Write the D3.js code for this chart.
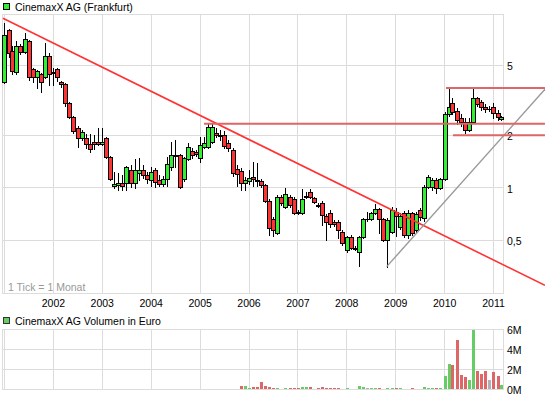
<!DOCTYPE html>
<html><head><meta charset="utf-8">
<script src="https://cdn.jsdelivr.net/npm/d3@7"></script>
<style>
body{margin:0;background:#fff}
svg{display:block}
text{font-family:"Liberation Sans",Arial,sans-serif;font-size:10.5px;fill:#000}
</style>
</head><body>
<svg id="c" width="545" height="398"></svg>
<script>
// ---- data (monthly candles, first = Jan 2001) ----
const startYear = 2001;
const open = [4.00,7.94,6.02,4.57,6.43,5.94,6.87,4.75,4.28,4.45,4.28,5.64,
  4.57,4.75,4.00,3.90,3.04,2.53,2.19,1.91,1.91,1.78,1.82,1.82,
  1.78,1.91,1.49,1.02,1.03,1.06,1.06,1.26,1.06,1.21,1.26,1.18,
  1.10,1.26,1.10,1.05,1.12,1.31,1.51,1.53,1.12,1.45,1.62,1.60,
  1.47,1.70,1.70,1.82,2.04,1.99,1.99,1.80,1.64,1.28,1.24,1.06,
  1.09,1.15,1.10,1.09,1.03,0.838,0.66,0.55,0.883,0.775,0.883,0.86,
  0.725,0.715,0.883,0.94,0.871,0.795,0.816,0.688,0.715,0.635,0.635,0.557,
  0.44,0.522,0.451,0.429,0.522,0.66,0.66,0.715,0.754,0.66,0.502,0.557,
  0.725,0.595,0.715,0.536,0.715,0.572,0.744,0.668,1.0,1.0,1.10,0.99,
  1.12,2.63,3.04,2.73,2.50,2.37,2.13,2.37,3.25,3.08,2.88,2.81,
  2.88,2.67,2.47];
const close = [7.43,5.86,4.63,6.43,5.94,7.05,4.28,4.28,4.63,4.00,5.64,4.45,
  4.51,4.28,3.90,3.04,2.53,2.10,1.91,2.07,1.78,1.66,1.78,1.78,
  1.82,1.49,1.12,1.05,1.06,1.02,1.31,1.06,1.26,1.26,1.18,1.12,
  1.23,1.07,1.05,1.12,1.36,1.53,1.53,1.00,1.47,1.70,1.53,1.55,
  1.75,1.80,2.22,2.22,1.99,1.97,1.72,1.68,1.21,1.20,1.06,1.10,
  1.13,1.12,1.09,1.03,0.838,0.587,0.572,0.883,0.816,0.918,0.795,0.715,
  0.715,0.86,0.894,0.883,0.827,0.785,0.697,0.635,0.62,0.62,0.572,0.483,
  0.522,0.451,0.448,0.522,0.66,0.66,0.715,0.754,0.66,0.502,0.652,0.744,
  0.688,0.688,0.536,0.715,0.55,0.706,0.68,1.0,1.15,1.10,0.99,1.12,
  2.63,2.88,2.70,2.43,2.37,2.13,2.37,3.25,3.00,2.88,2.81,2.81,
  2.67,2.53,2.53];
const high = [8.71,8.04,6.43,6.87,6.60,7.63,6.96,4.81,4.69,4.51,6.69,5.86,
  4.81,4.81,4.06,3.95,3.08,2.57,2.25,2.13,2.02,2.02,1.99,2.19,
  2.19,1.94,1.51,1.23,1.21,1.18,1.32,1.34,1.45,1.47,1.34,1.23,
  1.31,1.29,1.18,1.16,1.49,1.82,1.87,1.55,1.49,1.80,1.68,1.64,
  1.94,1.94,2.34,2.31,2.19,2.13,2.10,1.87,1.68,1.34,1.29,1.15,
  1.26,1.40,1.38,1.12,1.05,0.86,0.68,0.906,0.906,0.99,0.906,0.883,
  0.744,0.98,0.94,0.98,0.883,0.816,0.838,0.706,0.744,0.652,0.652,0.572,
  0.529,0.536,0.464,0.529,0.668,0.725,0.725,0.805,0.765,0.668,0.668,0.775,
  0.765,0.715,0.735,0.744,0.725,0.725,0.765,1.03,1.18,1.13,1.13,1.13,
  2.70,3.66,3.25,2.85,2.63,2.50,2.50,3.70,3.29,3.16,3.00,2.92,
  3.04,2.77,2.57];
const low = [3.95,5.56,4.45,4.45,5.78,5.86,4.11,4.00,3.70,3.52,4.22,3.85,
  3.85,4.06,3.75,2.92,2.50,2.04,1.70,1.87,1.68,1.60,1.66,1.75,
  1.75,1.47,1.10,0.99,0.967,0.967,0.967,1.00,0.99,1.10,1.13,1.06,
  1.02,1.00,1.02,1.02,1.02,1.26,1.31,0.99,1.09,1.44,1.47,1.51,
  1.40,1.68,1.68,1.80,1.94,1.87,1.68,1.62,1.16,1.02,0.967,0.967,
  1.05,1.02,1.02,1.00,0.827,0.536,0.53,0.543,0.795,0.765,0.775,0.706,
  0.706,0.706,0.871,0.871,0.816,0.775,0.611,0.502,0.595,0.603,0.515,0.47,
  0.429,0.445,0.44,0.356,0.515,0.644,0.652,0.706,0.55,0.496,0.352,0.55,
  0.529,0.58,0.522,0.515,0.536,0.557,0.652,0.644,0.99,0.967,0.93,0.98,
  1.10,2.57,2.63,2.31,2.25,2.04,2.10,2.34,2.92,2.77,2.70,2.73,
  2.50,2.43,2.43];
// volume in million Euro, starting at candle index 58 (Nov 2005)
const volumeStart = 58;
const volumeM = [0.27,0.27,0.10,0.17,0.17,0.73,0.27,0.20,0.10,0.15,0,0.10,
  0.13,0.13,0.13,0.23,0.23,0.23,0,0.13,0.23,0.13,0.13,0.13,
  0.13,0,0.10,0,0,0.33,0.23,0.13,0.13,0.13,0.13,0,
  0.13,0.13,0.13,0.13,0,0,0.13,0,0,0.23,0.13,0.13,
  0.13,0.13,1.27,2.53,2.43,4.87,1.43,1.17,0.93,5.93,1.83,1.53,
  1.83,0.93,1.73,1.27,0.43];
const priceTicks = [0.5, 1, 2, 5];
const priceTickLabels = ["0,5", "1", "2", "5"];
const volTicks = [0, 2, 4, 6];
const volTickLabels = ["0M", "2M", "4M", "6M"];
const yearLabels = [2002,2003,2004,2005,2006,2007,2008,2009,2010,2011];
// drawn trend lines [date, price]
const trendDown = [["2000-12-24", 9.26], ["2012-01-24", 0.276]];
const trendUp = [["2008-10-29", 0.353], ["2012-01-24", 3.64]];
const levels = [["2005-02-03", 2.31], ["2010-01-15", 3.70], ["2010-03-08", 1.99]];
const levelEnd = "2012-01-24";

// ---- drawing ----
const svg = d3.select("#c");
const parse = d3.timeParse("%Y-%m-%d");
const L = 2.5, R = 503.5, T = 14.5, B = 293.5;
const VT = 329.5, VB = 389.5;
const x = d3.scaleTime().domain([new Date(2001,0,1), new Date(2011,0,1)]).range([4, 493]);
const y = d3.scaleLog().domain([0.2496, 9.80]).range([293, 14]);
const yv = d3.scaleLinear().domain([0, 6]).range([389, 329]);
const grid = "#dcdcdc";

const data = open.map((o,k)=>({k, date:new Date(startYear, k, 4), o, c:close[k], h:high[k], l:low[k]}));
const cx = d => Math.round(x(d.date));
const cy = v => Math.round(y(v)) + 0.5;

// titles
svg.append("rect").attr("x",3.5).attr("y",3.5).attr("width",6).attr("height",6)
  .attr("fill","#33ee33").attr("stroke","#000");
svg.append("text").attr("x",15).attr("y",10.5).text("CinemaxX AG (Frankfurt)");
svg.append("rect").attr("x",3.5).attr("y",317.5).attr("width",6).attr("height",6)
  .attr("fill","#66cc66").attr("stroke","#333");
svg.append("text").attr("x",15).attr("y",325).text("CinemaxX AG Volumen in Euro");

// grid
const years = d3.timeYear.range(new Date(2001,0,1), new Date(2011,0,2));
[[T,B],[VT,VB]].forEach(([t,b])=>{
  svg.append("g").selectAll("line").data(years).join("line")
    .attr("x1",d=>Math.round(x(d))+0.5).attr("x2",d=>Math.round(x(d))+0.5)
    .attr("y1",t).attr("y2",b).attr("stroke",grid);
  svg.append("rect").attr("x",L).attr("y",t).attr("width",R-L).attr("height",b-t)
    .attr("fill","none").attr("stroke",grid);
});
svg.append("g").selectAll("line").data(priceTicks).join("line")
  .attr("x1",L).attr("x2",R).attr("y1",d=>cy(d)).attr("y2",d=>cy(d)).attr("stroke",grid);
svg.append("g").selectAll("line").data(volTicks).join("line")
  .attr("x1",L).attr("x2",R).attr("y1",d=>Math.round(yv(d))+0.5).attr("y2",d=>Math.round(yv(d))+0.5).attr("stroke",grid);

// axes
const ax = svg.append("g").attr("transform","translate(0,293)")
  .call(d3.axisBottom(x).tickValues(yearLabels.map(yr=>new Date(yr,0,1)))
    .tickFormat(d3.timeFormat("%Y")).tickSize(0).tickPadding(6.5));
const ay = svg.append("g").attr("transform","translate(503,0)")
  .call(d3.axisRight(y).tickValues(priceTicks).tickFormat((d,i)=>priceTickLabels[i]).tickSize(0).tickPadding(4));
const av = svg.append("g").attr("transform","translate(503,0)")
  .call(d3.axisRight(yv).tickValues(volTicks).tickFormat((d,i)=>volTickLabels[i]).tickSize(0).tickPadding(4));
[ax,ay,av].forEach(g=>{ g.select(".domain").remove(); g.selectAll("text").attr("font-size",null).attr("font-family",null).attr("fill","#000"); });
ay.selectAll("text").attr("dy","0.45em");
av.selectAll("text").attr("dy","0.45em");

svg.append("text").attr("x",8).attr("y",291).attr("fill","#999").style("fill","#999").text("1 Tick = 1 Monat");

// candles
const cg = svg.append("g");
cg.selectAll("line.w").data(data).join("line").attr("class","w")
  .attr("x1",d=>cx(d)+0.5).attr("x2",d=>cx(d)+0.5)
  .attr("y1",d=>cy(d.h)-0.5).attr("y2",d=>cy(d.l)+0.5).attr("stroke","#000");
data.forEach(d=>{
  const top = cy(Math.max(d.o,d.c)), bot = cy(Math.min(d.o,d.c));
  if (bot - top < 1) {
    cg.append("line").attr("x1",cx(d)-2).attr("x2",cx(d)+3).attr("y1",top).attr("y2",top).attr("stroke","#000");
  } else {
    cg.append("rect").attr("x",cx(d)-1.5).attr("y",top).attr("width",4).attr("height",bot-top)
      .attr("fill", d.c>d.o ? "#33ee33" : "#ff3333").attr("stroke","#000");
  }
});

// volume
const vdata = volumeM.map((v,i)=>({d:data[volumeStart+i], v})).filter(e=>e.v>0);
svg.append("g").selectAll("rect").data(vdata).join("rect")
  .attr("x",e=>cx(e.d)-1).attr("width",3)
  .attr("y",e=>Math.round(yv(e.v))).attr("height",e=>389-Math.round(yv(e.v)))
  .attr("fill",e=>e.d.c>e.d.o ? "#66cc66" : (e.d.c<e.d.o ? "#dd6666" : "#b0b0b0"));

// trend lines
const line = d3.line().x(p=>x(parse(p[0]))).y(p=>y(p[1]));
svg.append("path").attr("d",line(trendDown)).attr("fill","none").attr("stroke","#ff3333").attr("stroke-width",1.6);
svg.append("path").attr("d",line(trendUp)).attr("fill","none").attr("stroke","#999").attr("stroke-width",1.4);
levels.forEach(l=>{
  svg.append("path").attr("d",line([l,[levelEnd,l[1]]])).attr("fill","none").attr("stroke","#dd6666").attr("stroke-width",2);
});
</script>
</body></html>
